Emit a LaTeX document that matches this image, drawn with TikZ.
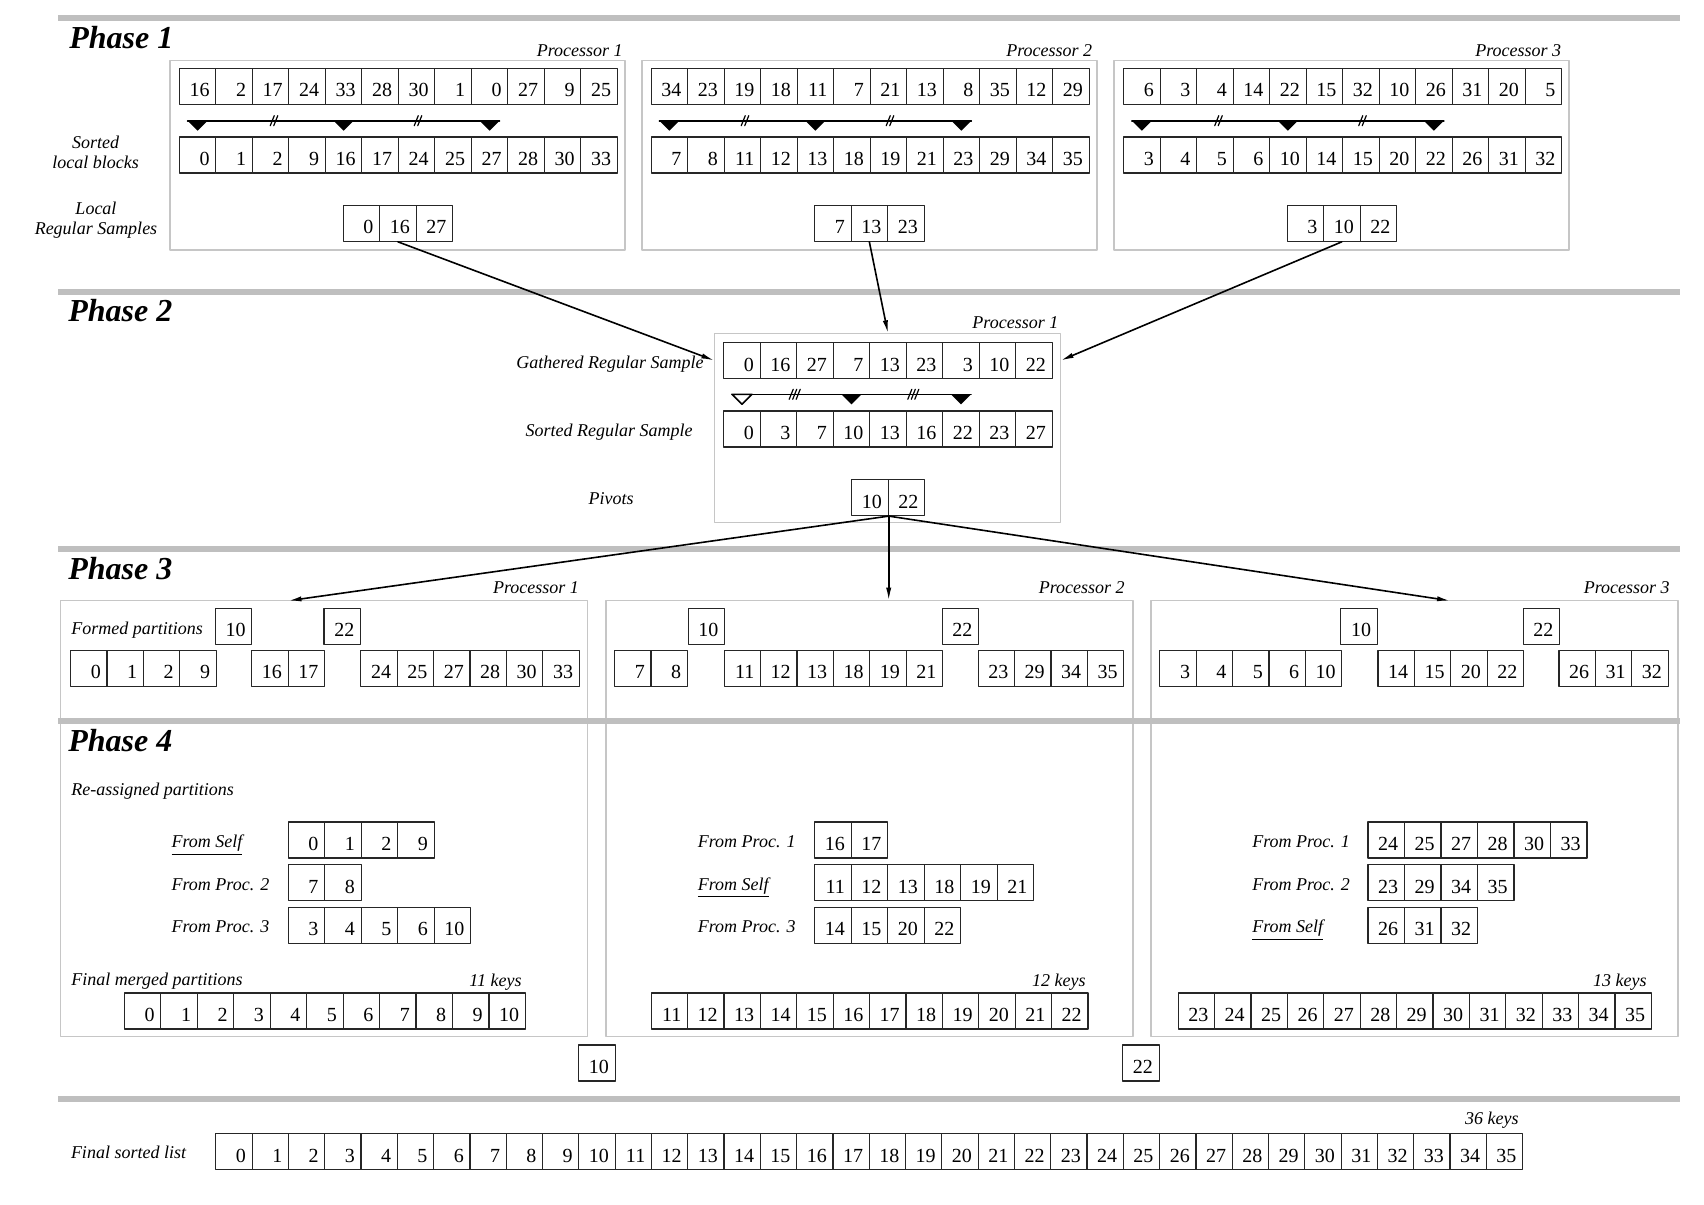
\documentclass[tikz,border=0pt]{standalone}
\usepackage{fontspec}
\setmainfont{Liberation Serif}
\usetikzlibrary{arrows.meta}
\usetikzlibrary{calc}
\usetikzlibrary{positioning}

\newcommand{\keyfont}{\fontsize{10}{12}\selectfont}
\newcommand{\labfont}{\fontsize{9}{10}\selectfont\itshape}
\newcommand{\keyrow}[5][36.5]{%
  \foreach \k [count=\i] in {#5}
    \node [cell,minimum width={#1*0.5pt}] (#2-\i) at ({#3+(\i-1)*#1},#4) {\k};}
\newcommand{\splitmark}[3]{%
  \foreach \j in {1,...,#3}
    \draw [line width=0.6pt] ({#1+(\j-(#3+1)/2)*3.5-2},{#2+5}) -- ++(4,-10);}

\tikzset{
  cell/.style={draw=black!85,line width=0.6pt,anchor=west,minimum width=18.25pt,minimum height=18pt,
    inner xsep=3pt,inner ysep=0pt,text width=12pt,align=right,text height=10.5pt,text depth=0pt,font=\keyfont},
  lab/.style={font=\labfont,inner sep=0pt},
  proclab/.style={lab,anchor=base east},
  phase/.style={font=\fontsize{16}{19}\selectfont\bfseries\itshape,inner sep=0pt,anchor=base west},
  procbox/.style={draw=gray!45,line width=0.7pt,anchor=north west,inner sep=0pt,outer sep=0pt},
  rule/.style={line width=2.8pt,gray!50,line cap=butt},
  conn/.style={->,line width=0.8pt}
}

\begin{document}
\begin{tikzpicture}[line cap=round,line join=round,>={Latex[length=6.5pt,width=2.6pt]},x=0.5pt,y=-0.5pt]
\useasboundingbox (0,0) rectangle (1704,1205);
\draw [rule] (58,18) -- (1680,18);
\draw [rule] (58,292) -- (1680,292);
\draw [rule] (58,548.8) -- (1680,548.8);
\draw [rule] (58,1099) -- (1680,1099);

\node [phase] (ph1t) at (69,48.3) {Phase 1};
\node [procbox,minimum width=227.5pt,minimum height=94.65pt] (pb1) at (170,60.7) {};
\node [procbox,minimum width=227.5pt,minimum height=94.65pt] (pb2) at (642,60.7) {};
\node [procbox,minimum width=227.5pt,minimum height=94.65pt] (pb3) at (1114,60.7) {};
\node [proclab] (pl1) at (623,56.7) {Processor 1};
\node [proclab] (pl2) at (1092.5,56.7) {Processor 2};
\node [proclab] (pl3) at (1561.5,56.7) {Processor 3};
\node [lab,align=center] (slb) at (95.5,152) {Sorted\\local blocks};
\node [lab,align=center] (lrs) at (96,220) {Local\\Regular Samples};
\keyrow{p1raw}{178.7}{86.3}{16,2,17,24,33,28,30,1,0,27,9,25}
\keyrow{p2raw}{650.5}{86.3}{34,23,19,18,11,7,21,13,8,35,12,29}
\keyrow{p3raw}{1123}{86.3}{6,3,4,14,22,15,32,10,26,31,20,5}
\keyrow{p1srt}{178.7}{155}{0,1,2,9,16,17,24,25,27,28,30,33}
\keyrow{p2srt}{650.5}{155}{7,8,11,12,13,18,19,21,23,29,34,35}
\keyrow{p3srt}{1123}{155}{3,4,5,6,10,14,15,20,22,26,31,32}
\keyrow{p1smp}{342.5}{223.2}{0,16,27}
\keyrow{p2smp}{814}{223.2}{7,13,23}
\keyrow{p3smp}{1286.5}{223.2}{3,10,22}
\coordinate (tl1) at (0,120.7);
\draw [line width=0.8pt] ($(p1srt-1.center |- tl1)+(-10,0)$) -- ($(p1srt-9.center |- tl1)+(10,0)$);
\draw [line width=0.8pt] ($(p2srt-1.center |- tl1)+(-10,0)$) -- ($(p2srt-9.center |- tl1)+(10,0)$);
\draw [line width=0.8pt] ($(p3srt-1.center |- tl1)+(-10,0)$) -- ($(p3srt-9.center |- tl1)+(10,0)$);
\foreach \c in {1,5,9} {
  \fill ($(p1srt-\c.center |- tl1)+(-10,0)$) -- ++(20,0) -- ++(-10,10) -- cycle;
  \fill ($(p2srt-\c.center |- tl1)+(-10,0)$) -- ++(20,0) -- ++(-10,10) -- cycle;
  \fill ($(p3srt-\c.center |- tl1)+(-10,0)$) -- ++(20,0) -- ++(-10,10) -- cycle;
}
\splitmark{274}{120.7}{2}
\splitmark{418}{120.7}{2}
\splitmark{745}{120.7}{2}
\splitmark{890}{120.7}{2}
\splitmark{1218.5}{120.7}{2}
\splitmark{1362.5}{120.7}{2}

\node [phase] (ph2t) at (68,321.7) {Phase 2};
\node [procbox,minimum width=173.15pt,minimum height=94.7pt] (ph2) at (714.3,333.3) {};
\node [proclab] (pl4) at (1058.7,328.3) {Processor 1};
\node [lab,anchor=base] (grs) at (610,368.3) {Gathered Regular Sample};
\node [lab,anchor=base] (srs) at (609,436.7) {Sorted Regular Sample};
\node [lab,anchor=base] (pvl) at (611,504) {Pivots};
\keyrow{gat}{723.1}{360.5}{0,16,27,7,13,23,3,10,22}
\keyrow{gsrt}{723.1}{429}{0,3,7,10,13,16,22,23,27}
\keyrow{piv}{851}{497.5}{10,22}
\coordinate (tl2) at (0,394.3);
\draw [line width=0.8pt] ($(gsrt-1.center |- tl2)+(-10,0)$) -- ($(gsrt-7.center |- tl2)+(10,0)$);
\filldraw [fill=white,line width=0.8pt] ($(gsrt-1.center |- tl2)+(-10,0)$) -- ++(20,0) -- ++(-10,10) -- cycle;
\fill ($(gsrt-4.center |- tl2)+(-10,0)$) -- ++(20,0) -- ++(-10,10) -- cycle;
\fill ($(gsrt-7.center |- tl2)+(-10,0)$) -- ++(20,0) -- ++(-10,10) -- cycle;
\splitmark{794.7}{394.3}{3}
\splitmark{913.3}{394.3}{3}
\draw [conn] (p1smp-2.south) -- (ph2.west |- gat-1.west);
\draw [conn] (p2smp-2.south) -- (gat-5.north |- ph2.north);
\draw [conn] (p3smp-2.south) -- (ph2.east |- gat-9.east);

\node [phase] (ph3t) at (68,579.3) {Phase 3};
\node [procbox,minimum width=263.5pt,minimum height=218pt] (qb1) at (60.5,600.7) {};
\node [procbox,minimum width=263.5pt,minimum height=218pt] (qb2) at (606,600.7) {};
\node [procbox,minimum width=263.5pt,minimum height=218pt] (qb3) at (1151,600.7) {};
\draw [rule] (58,720.8) -- (1680,720.8);
\node [proclab] (pl5) at (579.3,593.5) {Processor 1};
\node [proclab] (pl6) at (1125,593.5) {Processor 2};
\node [proclab] (pl7) at (1670,593.5) {Processor 3};
\node [lab,anchor=base west] (fpl) at (71,634) {Formed partitions};
\keyrow[36.4]{q1a}{70}{668.4}{0,1,2,9}
\keyrow[36.4]{q1b}{251.1}{668.4}{16,17}
\keyrow[36.4]{q1c}{360.2}{668.4}{24,25,27,28,30,33}
\node [cell] (q1p1) at (214.7,626.2) {10};
\node [cell] (q1p2) at (323.4,626.2) {22};
\keyrow[36.4]{q2a}{614}{668.4}{7,8}
\keyrow[36.4]{q2b}{723.5}{668.4}{11,12,13,18,19,21}
\keyrow[36.4]{q2c}{977.5}{668.4}{23,29,34,35}
\node [cell] (q2p1) at (687.5,626.2) {10};
\node [cell] (q2p2) at (941.5,626.2) {22};
\keyrow[36.4]{q3a}{1159.2}{668.4}{3,4,5,6,10}
\keyrow[36.4]{q3b}{1377.3}{668.4}{14,15,20,22}
\keyrow[36.4]{q3c}{1558.3}{668.4}{26,31,32}
\node [cell] (q3p1) at (1340.2,626.2) {10};
\node [cell] (q3p2) at (1522.5,626.2) {22};
\coordinate (in1) at ($(qb1.north west)+(228,0)$);
\coordinate (in2) at (piv-1.south east |- qb2.north);
\coordinate (in3) at ($(qb3.north west)+(299,0)$);
\draw [conn] (piv-1.south east) -- (in1);
\draw [conn] (piv-1.south east) -- (in2);
\draw [conn] (piv-1.south east) -- (in3);

\node [phase] (ph4t) at (68,751) {Phase 4};
\node [lab,anchor=base west] (rap) at (71,795) {Re-assigned partitions};
\node [lab,anchor=base west] (r1a) at (171.2,847.5) {\underline{From Self}};
\node [lab,anchor=base west] (r1b) at (171.2,890.2) {From Proc. 2};
\node [lab,anchor=base west] (r1c) at (171.2,932.8) {From Proc. 3};
\keyrow{s1a}{287.5}{840}{0,1,2,9}
\keyrow{s1b}{287.5}{882.7}{7,8}
\keyrow{s1c}{287.5}{925.3}{3,4,5,6,10}
\node [lab,anchor=base west] (r2a) at (697.5,847.5) {From Proc. 1};
\node [lab,anchor=base west] (r2b) at (697.5,890.2) {\underline{From Self}};
\node [lab,anchor=base west] (r2c) at (697.5,932.8) {From Proc. 3};
\keyrow{s2a}{814}{840}{16,17}
\keyrow{s2b}{814}{882.7}{11,12,13,18,19,21}
\keyrow{s2c}{814}{925.3}{14,15,20,22}
\node [lab,anchor=base west] (r3a) at (1251.9,847.5) {From Proc. 1};
\node [lab,anchor=base west] (r3b) at (1251.9,890.2) {From Proc. 2};
\node [lab,anchor=base west] (r3c) at (1251.9,932.8) {\underline{From Self}};
\keyrow{s3a}{1367.3}{840}{24,25,27,28,30,33}
\keyrow{s3b}{1367.3}{882.7}{23,29,34,35}
\keyrow{s3c}{1367.3}{925.3}{26,31,32}
\node [lab,anchor=base west] (fmp) at (71,985) {Final merged partitions};
\keyrow[36.45]{m1}{123.8}{1011}{0,...,10}
\keyrow[36.4]{m2}{650.5}{1011}{11,...,22}
\keyrow[36.4]{m3}{1177.5}{1011}{23,...,35}
\node [lab,anchor=base east] (k1) at (522,986.5) {11 keys};
\node [lab,anchor=base east] (k2) at (1086,986.5) {12 keys};
\node [lab,anchor=base east] (k3) at (1647,986.5) {13 keys};
\node [cell] (bp1) at (578,1063) {10};
\node [cell] (bp2) at (1122,1063) {22};

\node [lab,anchor=base west] (fsl) at (70.6,1158) {Final sorted list};
\keyrow[36.3]{fin}{215.2}{1151.5}{0,...,35}
\node [lab,anchor=base east] (k4) at (1519,1124.7) {36 keys};
\end{tikzpicture}
\end{document}
